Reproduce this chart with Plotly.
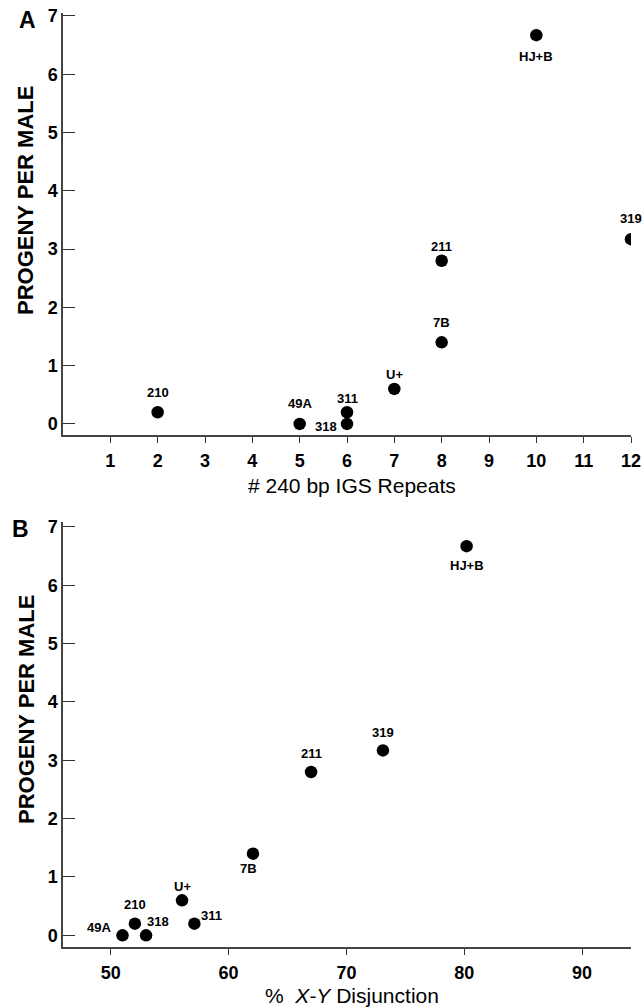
import plotly.graph_objects as go

# ---- data ----
strains = ["210", "49A", "311", "318", "U+", "7B", "211", "HJ+B", "319"]
igs_repeats = [2, 5, 6, 6, 7, 8, 8, 10, 12]
progeny_per_male = [0.2, 0.0, 0.2, 0.0, 0.6, 1.4, 2.8, 6.67, 3.17]
xy_disjunction = [52.05, 51.0, 57.1, 53.0, 56.05, 62.07, 67.0, 80.2, 73.1]

x_ticks_a = list(range(1, 13))
x_ticks_b = [50, 60, 70, 80, 90]
y_ticks = list(range(0, 8))

# ---- label placement (pixel shifts; style only) ----
shift_a = {"210": (0, 20), "49A": (0, 20), "311": (0, 14), "318": (-21, -3),
           "U+": (0, 14), "7B": (0, 20), "211": (0, 14), "HJ+B": (0, -21), "319": (0, 21)}
shift_b = {"210": (0, 19), "49A": (-24, 8), "311": (17, 8), "318": (12, 14),
           "U+": (0, 14), "7B": (-4, -15), "211": (0, 18), "HJ+B": (0, -19), "319": (0, 18)}

W, H = 642, 1008
FONT = "Liberation Sans, Arial, Helvetica, sans-serif"

def px(x):
    return x / W

def py(y):
    return 1 - y / H

fig = go.Figure()
fig.add_trace(go.Scatter(x=igs_repeats, y=progeny_per_male, mode="markers",
                         marker=dict(size=12.5, color="black"), xaxis="x", yaxis="y",
                         showlegend=False, hoverinfo="skip"))
fig.add_trace(go.Scatter(x=xy_disjunction, y=progeny_per_male, mode="markers",
                         marker=dict(size=12.5, color="black"), xaxis="x2", yaxis="y2",
                         showlegend=False, hoverinfo="skip"))

annotations = []
for s, xv, yv in zip(strains, igs_repeats, progeny_per_male):
    dx, dy = shift_a[s]
    annotations.append(dict(x=xv, y=yv, xref="x", yref="y", text="<b>%s</b>" % s,
                            showarrow=False, xshift=dx, yshift=dy,
                            font=dict(family=FONT, size=13, color="black")))
for s, xv, yv in zip(strains, xy_disjunction, progeny_per_male):
    dx, dy = shift_b[s]
    annotations.append(dict(x=xv, y=yv, xref="x2", yref="y2", text="<b>%s</b>" % s,
                            showarrow=False, xshift=dx, yshift=dy,
                            font=dict(family=FONT, size=13, color="black")))

# axis titles and panel letters
annotations += [
    dict(x=px(352), y=py(485), xref="paper", yref="paper", text="# 240 bp IGS Repeats",
         showarrow=False, xanchor="center", yanchor="middle",
         font=dict(family=FONT, size=21, color="black")),
    dict(x=px(352), y=py(995), xref="paper", yref="paper",
         text="%  <i>X-Y</i> Disjunction",
         showarrow=False, xanchor="center", yanchor="middle",
         font=dict(family=FONT, size=21, color="black")),
    dict(x=px(26), y=py(201), xref="paper", yref="paper", text="<b>PROGENY PER MALE</b>",
         showarrow=False, textangle=-90, xanchor="center", yanchor="middle",
         font=dict(family=FONT, size=22, color="black")),
    dict(x=px(26), y=py(710), xref="paper", yref="paper", text="<b>PROGENY PER MALE</b>",
         showarrow=False, textangle=-90, xanchor="center", yanchor="middle",
         font=dict(family=FONT, size=22, color="black")),
    dict(x=px(27), y=py(20), xref="paper", yref="paper", text="<b>A</b>",
         showarrow=False, xanchor="center", yanchor="middle",
         font=dict(family=FONT, size=23, color="black")),
    dict(x=px(21), y=py(529), xref="paper", yref="paper", text="<b>B</b>",
         showarrow=False, xanchor="center", yanchor="middle",
         font=dict(family=FONT, size=23, color="black")),
]

tickfont = dict(family=FONT, size=18, color="black")
xcommon = dict(showline=True, linecolor="#444", linewidth=1.5, showgrid=False,
               zeroline=False, ticks="outside", ticklen=6, tickwidth=1.3,
               tickcolor="#333", tickfont=tickfont, ticklabelstandoff=3,
               automargin=False, fixedrange=True)
ycommon = dict(showline=True, linecolor="#444", linewidth=1.5, showgrid=False,
               zeroline=False, ticks="inside", ticklen=12, tickwidth=1.3,
               tickcolor="#333", tickfont=tickfont, ticklabelstandoff=0,
               automargin=False,
               tickmode="array", tickvals=y_ticks,
               ticktext=["<b>%d</b>" % v for v in y_ticks], fixedrange=True)

fig.update_layout(
    width=W, height=H,
    margin=dict(l=0, r=0, t=0, b=0, pad=0, autoexpand=False),
    paper_bgcolor="white", plot_bgcolor="white",
    xaxis=dict(domain=[px(63), px(631)], range=[0, 12], anchor="y",
               tickmode="array", tickvals=x_ticks_a,
               ticktext=["<b>%d</b>" % v for v in x_ticks_a], **xcommon),
    yaxis=dict(domain=[py(435), py(13)], range=[-0.19, 7.05], anchor="x", **ycommon),
    xaxis2=dict(domain=[px(63), px(631)], range=[45.95, 94.15], anchor="y2",
                tickmode="array", tickvals=x_ticks_b,
                ticktext=["<b>%d</b>" % v for v in x_ticks_b], **xcommon),
    yaxis2=dict(domain=[py(947), py(521.7)], range=[-0.2, 7.09], anchor="x2", **ycommon),
    annotations=annotations,
    showlegend=False,
)

fig.write_html("out.html", config={"displayModeBar": False},
               post_script="document.body.style.margin='0px';document.body.style.overflow='hidden';")
